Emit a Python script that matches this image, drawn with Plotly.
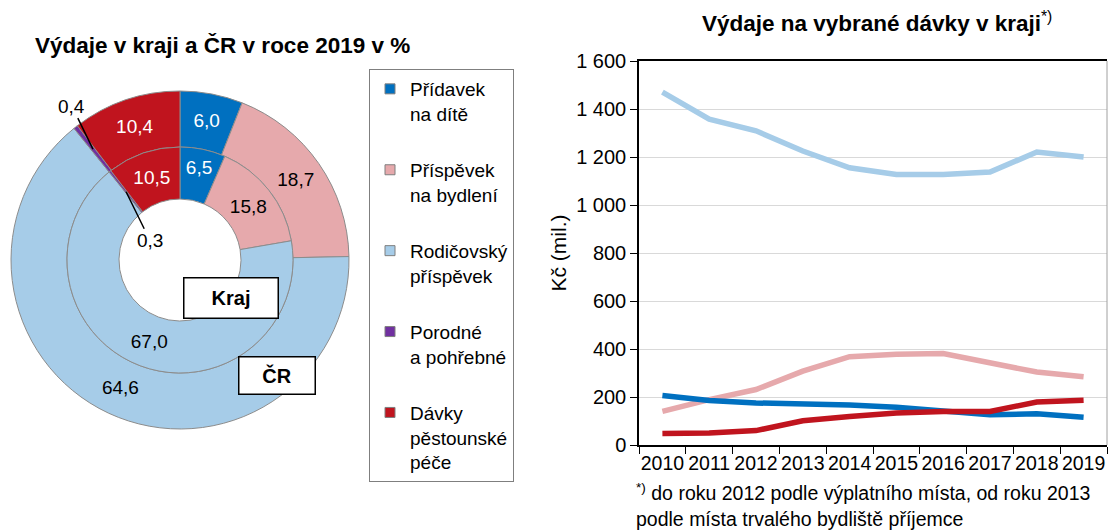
import math
import plotly.graph_objects as go

# ---------------- data ----------------
categories = ["Přídavek<br>na dítě", "Příspěvek<br>na bydlení", "Rodičovský<br>příspěvek",
              "Porodné<br>a pohřebné", "Dávky<br>pěstounské<br>péče"]
cr_values = [6.0, 18.7, 64.6, 0.4, 10.4]
kraj_values = [6.5, 15.8, 67.0, 0.3, 10.5]

years = ["2010", "2011", "2012", "2013", "2014", "2015", "2016", "2017", "2018", "2019"]
pridavek = [206, 185, 175, 172, 167, 157, 144, 126, 130, 116]
bydleni = [140, 189, 231, 308, 368, 378, 381, 343, 304, 284]
rodicovsky = [1470, 1358, 1309, 1225, 1155, 1127, 1127, 1137, 1221, 1200]
pestoun = [48, 50, 60, 101, 119, 133, 140, 140, 179, 186]

colors = ["#0070C0", "#E6A9AC", "#A6CCE8", "#7030A0", "#C0141E"]
text_colors = ["white", "black", "black", "white", "white"]

FONT = "Liberation Sans, Arial, sans-serif"
W, H = 1110, 532

# donut geometry (pixels)
cx, cy = 180, 260
R_out, R_mid, R_in = 169, 113, 61


def dom(r):
    return dict(x=[(cx - r) / W, (cx + r) / W], y=[1 - (cy + r) / H, 1 - (cy - r) / H])


def tmpl(vals):
    return ["%{value:.1f}" if v >= 1 else " " for v in vals]


fig = go.Figure()

fig.add_trace(go.Pie(
    values=cr_values, labels=categories, domain=dom(R_out), hole=R_mid / R_out,
    sort=False, direction="clockwise", rotation=0,
    marker=dict(colors=colors, line=dict(color="#8c8c8c", width=1)),
    texttemplate=tmpl(cr_values), textposition="inside", insidetextorientation="horizontal",
    textfont=dict(family=FONT, size=19, color=text_colors),
    showlegend=False, hoverinfo="skip",
))
fig.add_trace(go.Pie(
    values=kraj_values, labels=categories, domain=dom(R_mid), hole=R_in / R_mid,
    sort=False, direction="clockwise", rotation=0,
    marker=dict(colors=colors, line=dict(color="#8c8c8c", width=1)),
    texttemplate=tmpl(kraj_values), textposition="inside", insidetextorientation="horizontal",
    textfont=dict(family=FONT, size=19, color=text_colors),
    showlegend=False, hoverinfo="skip",
))

# line chart
for series, col in [(rodicovsky, colors[2]), (bydleni, colors[1]), (pridavek, colors[0]), (pestoun, colors[4])]:
    fig.add_trace(go.Scatter(x=years, y=series, mode="lines", line=dict(color=col, width=5.5),
                             showlegend=False, hoverinfo="skip"))

# legend entries
for i, (name, col) in enumerate(zip(categories, colors)):
    fig.add_trace(go.Scatter(x=[None], y=[None], mode="markers", name=name, legendgroup=f"g{i}",
                             marker=dict(symbol="square", size=10, color=col,
                                         line=dict(color="#7f7f7f", width=1))))

# labels for small slices
def head(vals, idx, r):
    cum = sum(vals[:idx]) + vals[idx] / 2
    a = 2 * math.pi * cum / sum(vals)
    return (cx + r * math.sin(a)) / W, 1 - (cy - r * math.cos(a)) / H

annotations = []
hx, hy = head(cr_values, 3, (R_out + R_mid) / 2)
annotations.append(dict(x=hx, y=hy, xref="paper", yref="paper", text="0,4", ax=-21, ay=-43,
                        showarrow=True, arrowhead=0, arrowwidth=1.5, arrowcolor="black",
                        font=dict(family=FONT, size=19, color="black")))
hx, hy = head(kraj_values, 3, (R_mid + R_in) / 2)
annotations.append(dict(x=hx, y=hy, xref="paper", yref="paper", text="0,3", ax=24, ay=49,
                        showarrow=True, arrowhead=0, arrowwidth=1.5, arrowcolor="black",
                        font=dict(family=FONT, size=19, color="black")))

# ring labels
annotations.append(dict(x=231 / W, y=1 - 298 / H, xref="paper", yref="paper", text="<b>Kraj</b>",
                        xanchor="center", yanchor="middle",
                        showarrow=False, width=91, height=37, bgcolor="white",
                        bordercolor="black", borderwidth=1.5,
                        font=dict(family=FONT, size=20, color="black")))
annotations.append(dict(x=277 / W, y=1 - 375 / H, xref="paper", yref="paper", text="<b>ČR</b>",
                        xanchor="center", yanchor="middle",
                        showarrow=False, width=73, height=34, bgcolor="white",
                        bordercolor="black", borderwidth=1.5,
                        font=dict(family=FONT, size=20, color="black")))

# titles
annotations.append(dict(x=222 / W, y=1 - 45 / H, xref="paper", yref="paper",
                        xanchor="center", yanchor="middle",
                        text="<b>Výdaje v kraji a ČR v roce 2019 v %</b>", showarrow=False,
                        font=dict(family=FONT, size=22.5, color="black")))
annotations.append(dict(x=877 / W, y=1 - 22 / H, xref="paper", yref="paper",
                        xanchor="center", yanchor="middle",
                        text="<b>Výdaje na vybrané dávky v kraji</b><sup>*)</sup>", showarrow=False,
                        font=dict(family=FONT, size=22.5, color="black")))
annotations.append(dict(x=634 / W, y=0, xref="paper", yref="paper", xanchor="left", yanchor="bottom",
                        align="left",
                        text="<sup>*)</sup> do roku 2012 podle výplatního místa, od roku 2013<br>podle místa trvalého bydliště příjemce",
                        showarrow=False, font=dict(family=FONT, size=19.5, color="black")))

fig.update_layout(
    width=W, height=H, margin=dict(l=0, r=0, t=0, b=0, autoexpand=False),
    paper_bgcolor="white", plot_bgcolor="white",
    separators=", ",
    font=dict(family=FONT, color="black"),
    annotations=annotations,
    shapes=[dict(type="line", xref="x domain", yref="y domain", x0=1, x1=1, y0=0, y1=1,
                 line=dict(color="#a0a0a0", width=1))],
    xaxis=dict(domain=[639 / W, 1107 / W], type="category", tickson="boundaries",
               range=[-0.5, len(years) - 0.5],
               ticks="outside", ticklen=7, tickcolor="black", showline=True, linecolor="black",
               linewidth=1.5, mirror=True, showgrid=False, tickangle=0, automargin=False,
               tickfont=dict(family=FONT, size=19.5, color="black")),
    yaxis=dict(domain=[1 - 445 / H, 1 - 61 / H], range=[0, 1600], dtick=200, tickformat=",d",
               ticks="outside", ticklen=7, tickcolor="black", showline=True, linecolor="black",
               linewidth=1.5, gridcolor="#d9d9d9", gridwidth=1, zeroline=False, automargin=False,
               tickfont=dict(family=FONT, size=20, color="black"),
               title=dict(text="Kč (mil.)", font=dict(family=FONT, size=21, color="black"), standoff=4)),
    legend=dict(x=369 / W, y=1 - 69 / H, xanchor="left", yanchor="top",
                bordercolor="#7f7f7f", borderwidth=1, bgcolor="white",
                traceorder="grouped", tracegroupgap=28.5, valign="top",
                font=dict(family=FONT, size=19, color="black")),
)

fig.write_html("out.html", config={"displayModeBar": False},
               post_script="document.body.style.margin='0';document.body.style.padding='0';")
